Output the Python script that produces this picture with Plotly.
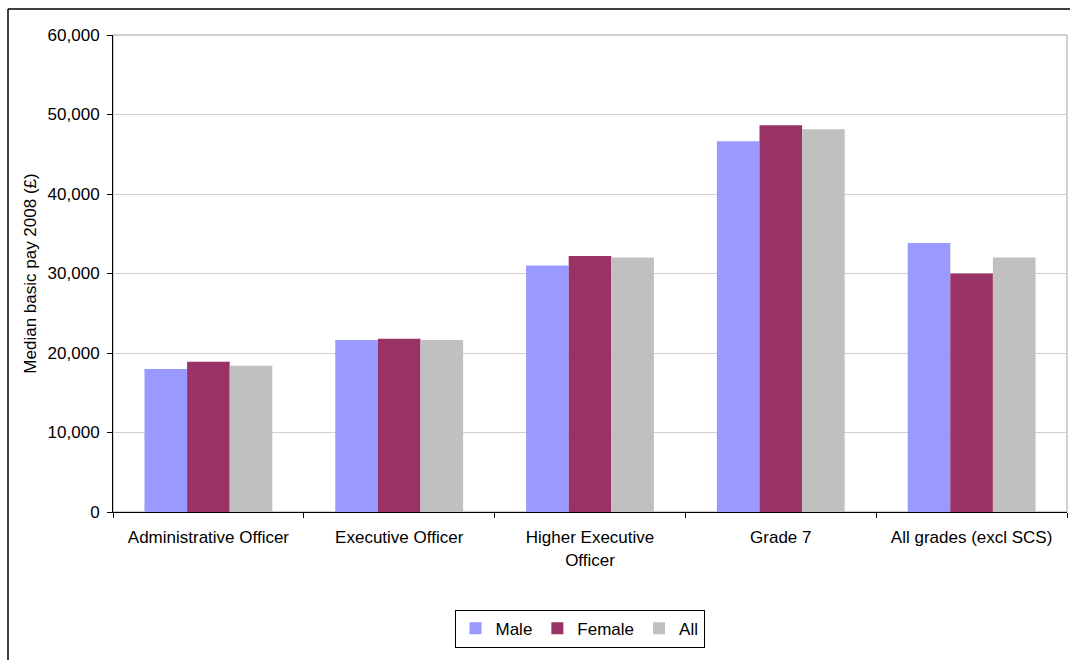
import plotly.graph_objects as go

# Median basic pay 2008 by grade and gender
grades = ["Administrative Officer", "Executive Officer", "Higher Executive<br>Officer",
          "Grade 7", "All grades (excl SCS)"]
male = [18000, 21650, 31000, 46650, 33850]
female = [18900, 21800, 32200, 48650, 30000]
all_staff = [18400, 21650, 32000, 48150, 32000]

series = [("Male", male, "#9999FF"), ("Female", female, "#993366"), ("All", all_staff, "#C0C0C0")]

FS = 17
font = dict(family="Liberation Sans, Arial, sans-serif", size=FS, color="#000000")

fig = go.Figure()
for name, vals, col in series:
    fig.add_trace(go.Bar(x=grades, y=vals, name=name, marker=dict(color=col, line=dict(width=0))))

W, H = 1070, 660
L, R, T, B = 113, 3, 35, 148
pw, ph = W - L - R, H - T - B

fig.update_layout(
    width=W, height=H,
    margin=dict(l=L, r=R, t=T, b=B),
    paper_bgcolor="white", plot_bgcolor="white",
    font=font,
    barmode="group", bargap=0.33, bargroupgap=0,
    showlegend=True,
    legend=dict(orientation="h", x=0.489, xanchor="center", y=-0.205, yanchor="top",
                bordercolor="#000000", borderwidth=1, font=dict(size=FS),
                itemwidth=30, tracegroupgap=0),
    xaxis=dict(showline=True, linecolor="#000000", linewidth=1,
               ticks="outside", tickson="boundaries", ticklen=5, tickcolor="#000000",
               tickfont=dict(size=FS), showgrid=False, ticklabelstandoff=10),
    yaxis=dict(range=[0, 60000], dtick=10000, tickformat=",d",
               showline=True, linecolor="#000000", linewidth=1,
               ticks="outside", ticklen=5, tickcolor="#000000",
               showgrid=True, gridcolor="#D0D0D0", gridwidth=1,
               tickfont=dict(size=FS), zeroline=False, ticklabelstandoff=4,
               title=dict(text="Median basic pay 2008 (£)", font=dict(size=FS), standoff=6)),
    shapes=[
        # plot area frame
        dict(type="rect", xref="paper", yref="paper", x0=0, y0=0, x1=1, y1=1,
             line=dict(color="#A0A0A0", width=1), layer="below"),
        # outer chart border
        dict(type="line", xref="paper", yref="paper",
             x0=(8 - L) / pw, x1=(W + 5 - L) / pw, y0=(H - B - 9) / ph, y1=(H - B - 9) / ph,
             line=dict(color="#000000", width=1.5)),
        dict(type="line", xref="paper", yref="paper",
             x0=(8 - L) / pw, x1=(8 - L) / pw, y0=(H - B - 9) / ph, y1=-(B + 5) / ph,
             line=dict(color="#000000", width=1.5)),
    ],
)

fig.write_html("out.html")
